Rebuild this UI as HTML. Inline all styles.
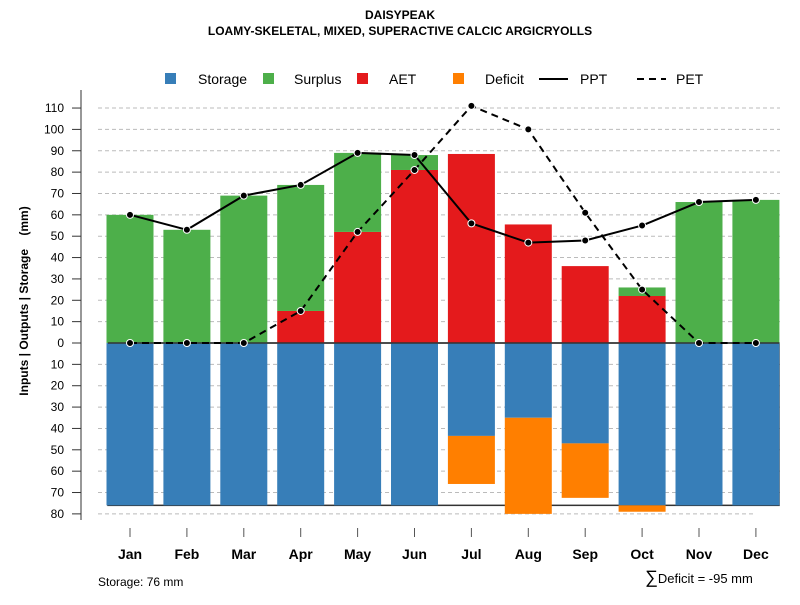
<!DOCTYPE html>
<html><head><meta charset="utf-8"><style>
body{margin:0;background:#fff}
text{font-family:"Liberation Sans",sans-serif}
</style></head><body>
<svg id="c" width="800" height="600" xmlns="http://www.w3.org/2000/svg">
<text x="400" y="19" text-anchor="middle" font-size="12" font-weight="bold">DAISYPEAK</text>
<text x="400" y="35" text-anchor="middle" font-size="12" font-weight="bold">LOAMY-SKELETAL, MIXED, SUPERACTIVE CALCIC ARGICRYOLLS</text>
<g id="grid"></g><g id="bars"></g><g id="lines"></g><g id="axes"></g>
<g font-size="14">
<rect x="165" y="73" width="11" height="11" fill="#377eb8"/><text x="198" y="84">Storage</text>
<rect x="263" y="73" width="11" height="11" fill="#4daf4a"/><text x="294" y="84">Surplus</text>
<rect x="357" y="73" width="11" height="11" fill="#e41a1c"/><text x="389" y="84">AET</text>
<rect x="453" y="73" width="11" height="11" fill="#ff7f00"/><text x="485" y="84">Deficit</text>
<line x1="539" y1="79" x2="568" y2="79" stroke="#000" stroke-width="2"/><text x="580" y="84">PPT</text>
<line x1="637" y1="79" x2="666" y2="79" stroke="#000" stroke-width="2" stroke-dasharray="7,5"/><text x="676" y="84">PET</text>
</g>
<text transform="translate(28,301) rotate(-90)" text-anchor="middle" font-size="12" font-weight="bold">Inputs | Outputs | Storage&#160;&#160;&#160;&#160;(mm)</text>
<text x="98" y="586" font-size="12">Storage: 76 mm</text>
<text x="645" y="583" font-size="13"><tspan font-size="18">∑</tspan>Deficit = -95 mm</text>
</svg>
<script>
const months=["Jan","Feb","Mar","Apr","May","Jun","Jul","Aug","Sep","Oct","Nov","Dec"];
const storage=[76,76,76,76,76,76,43.5,35,47,76,76,76];
const deficit=[0,0,0,0,0,0,22.5,45,25.5,3,0,0];
const aet=[0,0,0,15,52,81,88.5,55.5,36,22,0,0];
const surplus=[60,53,69,59,37,7,0,0,0,4,66,67];
const ppt=[60,53,69,74,89,88,56,47,48,55,66,67];
const pet=[0,0,0,15,52,81,111,100,61,25,0,0];
const posTicks=[0,10,20,30,40,50,60,70,80,90,100,110];
const negTicks=[10,20,30,40,50,60,70,80];
const maxStorage=76;
const NS="http://www.w3.org/2000/svg";
const y=v=>343-v*2.136;
const x=i=>130+i*56.9;
const BW=47;
function mk(p,t,a){const e=document.createElementNS(NS,t);for(const k in a)e.setAttribute(k,a[k]);document.getElementById(p).appendChild(e);return e;}
posTicks.concat(negTicks.map(v=>-v)).forEach(v=>{
 if(v===0)return;
 const g=mk('grid','line',{x1:98,x2:v===-80?755:780,y1:y(v),y2:y(v),stroke:'#bbb','stroke-dasharray':'4,3'});
 
 
});
const sb=mk('bars','rect',{x:108,y:343,width:671,height:y(-maxStorage)-343,fill:'none',stroke:'#333','stroke-width':1.5});


months.forEach((m,i)=>{
 const l=x(i)-BW/2;
 const r1=mk('bars','rect',{x:l,y:343,width:BW,height:y(-storage[i])-343,fill:'#377eb8'});
 
 
 if(deficit[i]>0){
  const r=mk('bars','rect',{x:l,y:y(-storage[i]),width:BW,height:deficit[i]*2.136,fill:'#ff7f00'});
  
  
 }
 if(aet[i]>0){
  const r=mk('bars','rect',{x:l,y:y(aet[i]),width:BW,height:aet[i]*2.136,fill:'#e41a1c'});
  
  
 }
 if(surplus[i]>0){
  const r=mk('bars','rect',{x:l,y:y(aet[i]+surplus[i]),width:BW,height:surplus[i]*2.136,fill:'#4daf4a'});
  
  
 }
 const t=mk('axes','line',{x1:x(i),x2:x(i),y1:528,y2:537,stroke:'#555'});
 
 
 const tl=mk('axes','text',{x:x(i),y:559,'text-anchor':'middle','font-size':14,'font-weight':'bold'});
 tl.textContent=m;
 
 
});
const zl=mk('bars','line',{x1:108,x2:779,y1:343,y2:343,stroke:'#333','stroke-width':1.5});


function series(arr,dash,name){
 const p=mk('lines','polyline',{points:arr.map((v,i)=>x(i)+','+y(v)).join(' '),fill:'none',stroke:'#000','stroke-width':2,'stroke-dasharray':dash});
 
 
 arr.forEach((v,i)=>{
  const c=mk('lines','circle',{cx:x(i),cy:y(v),r:3.5,fill:'#000',stroke:'#fff','stroke-width':1});
  
  
 });
}
series(pet,'7,5','pet');
series(ppt,'none','ppt');
const ax=mk('axes','line',{x1:81,x2:81,y1:90,y2:520,stroke:'#777','stroke-width':1.5});


posTicks.concat(negTicks.map(v=>-v)).forEach(v=>{
 const t=mk('axes','line',{x1:72,x2:81,y1:y(v),y2:y(v),stroke:'#333'});
 
 
 const tl=mk('axes','text',{x:64,y:y(v)+4,'text-anchor':'end','font-size':12});
 tl.textContent=Math.abs(v);
 
 
});
</script>
</body></html>
